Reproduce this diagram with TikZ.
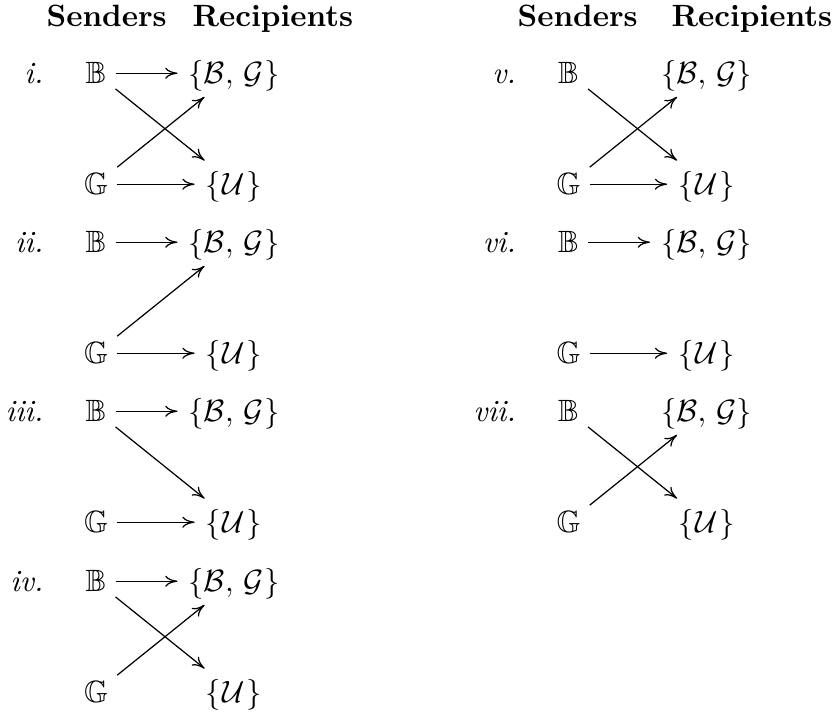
\documentclass[tikz,border=0pt]{standalone}
\usepackage{amssymb}
\usetikzlibrary{arrows.meta}
\newcommand\mydiag[4]{%
  \begin{scope}[shift={(#3,#4)}]
    \node[lbl] (#1l) at (44,0) {#2};
    \node[snd] (#1b) at (96,0) {$\mathbb{B}$};
    \node[snd] (#1g) at (96,111) {$\mathbb{G}$};
    \node[rcp] (#1r) at (234,0) {$\{\mathcal{B},\,\mathcal{G}\}$};
    \node[rcp] (#1u) at (234,111) {$\{\mkern1mu\mathcal{U}\mkern1mu\}$};
  \end{scope}}
\begin{document}
\begin{tikzpicture}[x=0.3247pt,y=-0.3247pt,
  lbl/.style={anchor=base east,inner sep=0pt,font=\itshape},
  hdr/.style={anchor=base west,inner sep=0pt,font=\bfseries},
  snd/.style={anchor=base,text height=7pt,text depth=0pt,inner xsep=2.8pt,inner ysep=2pt},
  rcp/.style={anchor=base,text height=7pt,text depth=0pt,inner xsep=3.4pt,inner ysep=4pt},
  arr/.style={-{To[length=4pt,width=3.6pt]}}]
\useasboundingbox (0,0) rectangle (838,716);
\node[hdr] (s1) at (46,27) {Senders};
\node[hdr] (r1) at (192,27) {Recipients};
\node[hdr] (s2) at (517,27) {Senders};
\node[hdr] (r2) at (671,27) {Recipients};
\mydiag{a}{i.}{0}{84}
\mydiag{b}{ii.}{0}{253}
\mydiag{c}{iii.}{0}{422}
\mydiag{d}{iv.}{0}{592}
\mydiag{e}{v.}{472.5}{84}
\mydiag{f}{vi.}{472.5}{253}
\mydiag{g}{vii.}{472.5}{422}
% i
\draw[arr] (ab) -- (ar); \draw[arr] (ab) -- (au); \draw[arr] (ag) -- (ar); \draw[arr] (ag) -- (au);
% ii
\draw[arr] (bb) -- (br); \draw[arr] (bg) -- (br); \draw[arr] (bg) -- (bu);
% iii
\draw[arr] (cb) -- (cr); \draw[arr] (cb) -- (cu); \draw[arr] (cg) -- (cu);
% iv
\draw[arr] (db) -- (dr); \draw[arr] (db) -- (du); \draw[arr] (dg) -- (dr);
% v
\draw[arr] (eb) -- (eu); \draw[arr] (eg) -- (er); \draw[arr] (eg) -- (eu);
% vi
\draw[arr] (fb) -- (fr); \draw[arr] (fg) -- (fu);
% vii
\draw[arr] (gb) -- (gu); \draw[arr] (gg) -- (gr);
\end{tikzpicture}
\end{document}
